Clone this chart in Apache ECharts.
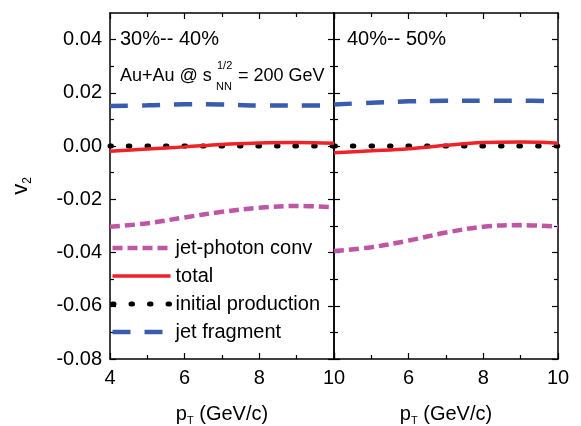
<!DOCTYPE html>
<html>
<head>
<meta charset="utf-8">
<script src="https://cdn.jsdelivr.net/npm/echarts@6/dist/echarts.min.js"></script>
<style>html,body{margin:0;padding:0;background:#fff;}#c{width:581px;height:426px;}</style>
</head>
<body>
<div id="c"></div>
<script>
// ---- data ----
var pT = [4, 5, 6, 7, 8, 9, 10];
var xTicks = [4, 6, 8, 10];
var yTicks = [-0.08, -0.06, -0.04, -0.02, 0.00, 0.02, 0.04];
var seriesNames = ['jet-photon conv', 'total', 'initial production', 'jet fragment'];
var panelLabels = ['30%-- 40%', '40%-- 50%'];

// 30%--40%
var conv3040 = [-0.0303, -0.0290, -0.0268, -0.0247, -0.0232, -0.0225, -0.0230];
var total3040 = [-0.0019, -0.0011, -0.0003, 0.0006, 0.0012, 0.0013, 0.0011];
var init3040 = [0, 0, 0, 0, 0, 0, 0];
var frag3040 = [0.0151, 0.0153, 0.0157, 0.0156, 0.0152, 0.0152, 0.0153];

// 40%--50%
var conv4050 = [-0.0394, -0.0380, -0.0355, -0.0325, -0.0303, -0.0297, -0.0303];
var total4050 = [-0.0025, -0.0018, -0.0010, 0.0003, 0.0013, 0.0015, 0.0011];
var init4050 = [0, 0, 0, 0, 0, 0, 0];
var frag4050 = [0.0156, 0.0163, 0.0168, 0.0170, 0.0170, 0.0170, 0.0169];

function pts(vals) { return pT.map(function (x, i) { return [x, vals[i]]; }); }

var styles = [
  { color: '#C055A5', width: 4.5, type: [10, 5], cap: 'butt' },
  { color: '#EE2228', width: 3.5, type: 'solid', cap: 'butt' },
  { color: '#000000', width: 5, type: [1.5, 17], cap: 'round' },
  { color: '#3A5CAE', width: 4.5, type: [18, 14], cap: 'butt' }
];
var panels = [
  [conv3040, total3040, init3040, frag3040],
  [conv4050, total4050, init4050, frag4050]
];

var FONT = 'Liberation Sans';
var series = [];
panels.forEach(function (p, pi) {
  p.forEach(function (vals, si) {
    var st = styles[si];
    series.push({
      name: seriesNames[si],
      type: 'line',
      xAxisIndex: pi * 2,
      yAxisIndex: pi * 2,
      data: pts(vals),
      smooth: 0.4,
      symbol: 'none',
      showSymbol: false,
      z: si === 1 ? 3 : 2,
      lineStyle: { color: st.color, width: st.width, type: st.type, cap: st.cap },
      itemStyle: { color: st.color }
    });
  });
});

var legendData = seriesNames.map(function (n, i) {
  var st = styles[i];
  return { name: n, lineStyle: { color: st.color, width: st.width, type: st.type, cap: st.cap } };
});

function xAx(grid, pos, labels, hideMin) {
  return {
    type: 'value', gridIndex: grid, position: pos,
    min: 4, max: 10, interval: 2,
    axisLine: { show: true, onZero: false, lineStyle: { color: '#000', width: 1.5 } },
    axisTick: { show: true, inside: true, length: 6, lineStyle: { color: '#000', width: 1.2 } },
    minorTick: { show: true, splitNumber: 2, length: 4, lineStyle: { color: '#000', width: 1.2 } },
    splitLine: { show: false },
    axisLabel: {
      show: labels, showMinLabel: !hideMin, color: '#000', fontSize: 20, fontFamily: FONT, margin: 9,
      customValues: xTicks
    },
    name: labels ? 'p{sub|T} (GeV/c)' : '',
    nameLocation: 'middle', nameGap: 44,
    nameTextStyle: {
      color: '#000', fontSize: 20, fontFamily: FONT,
      rich: { sub: { fontSize: 11, fontFamily: FONT, color: '#000', verticalAlign: 'bottom', padding: [12, 0, 0, 0] } }
    }
  };
}
function yAx(grid, pos, labels, name) {
  return {
    type: 'value', gridIndex: grid, position: pos,
    min: -0.08, max: 0.05, interval: 0.02,
    axisLine: { show: true, onZero: false, lineStyle: { color: '#000', width: 1.5 } },
    axisTick: { show: true, inside: true, length: 6, customValues: yTicks, lineStyle: { color: '#000', width: 1.2 } },
    minorTick: { show: true, splitNumber: 2, length: 4, lineStyle: { color: '#000', width: 1.2 } },
    splitLine: { show: false },
    axisLabel: {
      show: labels, color: '#000', fontSize: 20, fontFamily: FONT, margin: 8,
      customValues: yTicks,
      formatter: function (v) { return v.toFixed(2); }
    },
    name: name ? 'v{sub|2}' : '',
    nameLocation: 'middle', nameGap: 76, nameRotate: 90,
    nameTextStyle: {
      color: '#000', fontSize: 22, fontFamily: FONT,
      rich: { sub: { fontSize: 12, fontFamily: FONT, color: '#000', padding: [14, 0, 0, 0] } }
    }
  };
}

var option = {
  animation: false,
  backgroundColor: '#fff',
  grid: [
    { left: 110, width: 224, top: 13, bottom: 67, outerBoundsMode: 'none', containLabel: false },
    { left: 334, width: 224, top: 13, bottom: 67, outerBoundsMode: 'none', containLabel: false }
  ],
  xAxis: [
    xAx(0, 'bottom', true, false),
    xAx(0, 'top', false, false),
    xAx(1, 'bottom', true, true),
    xAx(1, 'top', false, false)
  ],
  yAxis: [
    yAx(0, 'left', true, true),
    yAx(0, 'right', false, false),
    yAx(1, 'left', false, false),
    yAx(1, 'right', false, false)
  ],
  legend: {
    show: true,
    data: legendData,
    orient: 'vertical',
    left: 110, top: 238,
    itemWidth: 58, itemHeight: 14, itemGap: 8,
    padding: 0,
    selectedMode: false,
    itemStyle: { opacity: 0 },
    textStyle: { color: '#000', fontSize: 20, fontFamily: FONT }
  },
  graphic: [
    { type: 'text', left: 120, top: 29, style: { text: panelLabels[0], fontSize: 20, fontFamily: FONT, fill: '#000' } },
    { type: 'text', left: 347, top: 29, style: { text: panelLabels[1], fontSize: 20, fontFamily: FONT, fill: '#000' } },
    { type: 'text', left: 120, top: 67, style: { text: 'Au+Au @ s', fontSize: 18, fontFamily: FONT, fill: '#000' } },
    { type: 'text', left: 217, top: 60, style: { text: '1/2', fontSize: 11, fontFamily: FONT, fill: '#000' } },
    { type: 'text', left: 216, top: 81, style: { text: 'NN', fontSize: 11, fontFamily: FONT, fill: '#000' } },
    { type: 'text', left: 238, top: 67, style: { text: '= 200 GeV', fontSize: 18, fontFamily: FONT, fill: '#000' } }
  ],
  series: series
};

var chart = echarts.init(document.getElementById('c'), null, { renderer: 'canvas' });
chart.setOption(option);
</script>
</body>
</html>
